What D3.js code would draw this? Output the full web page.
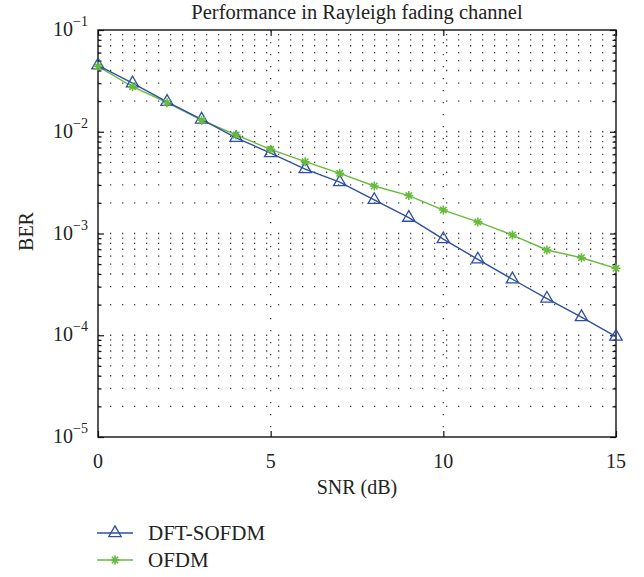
<!DOCTYPE html>
<html>
<head>
<meta charset="utf-8">
<script src="https://cdn.jsdelivr.net/npm/d3@7"></script>
<style>
  body { margin: 0; background: #fff; }
</style>
</head>
<body>
<svg id="chart" width="644" height="577" font-family="'Liberation Serif', 'DejaVu Serif', serif"></svg>
<script>
// data
const snr = [0, 1, 2, 3, 4, 5, 6, 7, 8, 9, 10, 11, 12, 13, 14, 15]
const berDft = [0.0450, 0.0300, 0.0197, 0.0132, 0.0087, 0.00618, 0.0043, 0.0032, 0.00214,
                0.00143, 0.00088, 0.000557, 0.000355, 0.000229, 0.000151, 0.0000969]
const berOfdm = [0.0440, 0.0277, 0.0193, 0.0130, 0.0093, 0.00671, 0.00508, 0.0039, 0.00293,
                 0.00236, 0.00170, 0.00130, 0.000966, 0.000689, 0.000578, 0.000455]
const xTicks = [0, 5, 10, 15]
const yExp = [-1, -2, -3, -4, -5]
const seriesNames = ["DFT-SOFDM", "OFDM"]

const blue = "#2f4fa2", green = "#66bb3c"
const serif = "Liberation Serif"

var margin = ({top: 30, right: 28, bottom: 140, left: 98})
var svg = d3.select("#chart")
var width = 644 - margin.left - margin.right
var height = 577 - margin.top - margin.bottom

var x = d3.scaleLinear().domain([0, 15]).range([0, width])
var y = d3.scaleLog().domain([1e-5, 1e-1]).range([height, 0])

var g = svg.append("g").attr("transform", `translate(${margin.left},${margin.top})`)

// minor log ticks
var minors = []
for (let e = -5; e < -1; e++) {
  for (let k = 2; k <= 9; k++) minors.push(k * Math.pow(10, e))
}
var majors = yExp.map(e => Math.pow(10, e))

// dotted grid
var grid = g.append("g").attr("stroke", "#444").attr("stroke-width", 1.3)
  .attr("stroke-dasharray", "1.3,10.7")
grid.selectAll(".hg").data(minors.concat(majors.slice(1, 4))).enter().append("line")
  .attr("x1", 0).attr("x2", width)
  .attr("y1", d => y(d)).attr("y2", d => y(d))
grid.selectAll(".vg").data([5, 10]).enter().append("line")
  .attr("x1", d => x(d)).attr("x2", d => x(d))
  .attr("y1", 0).attr("y2", height)

// axes (ticks inside, box on all sides)
function styleAxis(sel) {
  sel.select(".domain").remove()
  sel.selectAll("line").attr("stroke", "#111").attr("stroke-width", 1.2)
}
g.append("g").attr("transform", `translate(0,${height})`)
  .call(d3.axisBottom(x).tickValues(xTicks).tickSize(-6).tickFormat(""))
  .call(styleAxis)
g.append("g")
  .call(d3.axisTop(x).tickValues(xTicks).tickSize(-6).tickFormat(""))
  .call(styleAxis)
g.append("g")
  .call(d3.axisLeft(y).tickValues(majors).tickSize(-6).tickFormat(""))
  .call(styleAxis)
g.append("g")
  .call(d3.axisLeft(y).tickValues(minors).tickSize(-3.5).tickFormat(""))
  .call(styleAxis)
g.append("g").attr("transform", `translate(${width},0)`)
  .call(d3.axisRight(y).tickValues(majors).tickSize(-6).tickFormat(""))
  .call(styleAxis)
g.append("g").attr("transform", `translate(${width},0)`)
  .call(d3.axisRight(y).tickValues(minors).tickSize(-3.5).tickFormat(""))
  .call(styleAxis)

g.append("rect").attr("width", width).attr("height", height)
  .attr("fill", "none").attr("stroke", "#111").attr("stroke-width", 1.4)

// tick labels
g.selectAll(".xl").data(xTicks).enter().append("text")
  .attr("x", d => x(d)).attr("y", height + 31)
  .attr("text-anchor", "middle").attr("font-size", 20)
  .attr("font-family", serif).attr("fill", "#222")
  .text(d => d)

var yl = g.selectAll(".yl").data(yExp).enter().append("text")
  .attr("x", -10).attr("y", d => y(Math.pow(10, d)) + 6)
  .attr("text-anchor", "end").attr("font-size", 20)
  .attr("font-family", serif).attr("fill", "#222")
yl.append("tspan").text("10")
yl.append("tspan").attr("dy", -10).attr("font-size", 14).text(d => "\u2212" + Math.abs(d))

// titles
function label(t, size) {
  return svg.append("text").attr("text-anchor", "middle").attr("font-size", size)
    .attr("font-family", serif).attr("fill", "#222").text(t)
}
label("Performance in Rayleigh fading channel", 20.5)
  .attr("x", margin.left + width / 2).attr("y", 19)
label("SNR (dB)", 20)
  .attr("x", margin.left + width / 2).attr("y", margin.top + height + 57)
label("BER", 20)
  .attr("transform", `translate(33,${margin.top + height / 2 - 2}) rotate(-90)`)

// series
var line = d3.line().x((d, i) => x(snr[i])).y(d => y(d))
var tri = d3.symbol().type(d3.symbolTriangle).size(66)
var star = "M-4.5,0H4.5M0,-4.5V4.5M-3.2,-3.2L3.2,3.2M-3.2,3.2L3.2,-3.2"

g.append("path").datum(berOfdm).attr("d", line)
  .attr("fill", "none").attr("stroke", green).attr("stroke-width", 1.4)
g.append("path").datum(berDft).attr("d", line)
  .attr("fill", "none").attr("stroke", blue).attr("stroke-width", 1.4)

g.selectAll(".tri").data(berDft).enter().append("path")
  .attr("transform", (d, i) => `translate(${x(snr[i])},${y(d)})`)
  .attr("d", tri).attr("fill", "none").attr("stroke", blue).attr("stroke-width", 1.3)
g.selectAll(".star").data(berOfdm).enter().append("path")
  .attr("transform", (d, i) => `translate(${x(snr[i])},${y(d)})`)
  .attr("d", star).attr("fill", "none").attr("stroke", green).attr("stroke-width", 1.6)

// legend
var leg = svg.append("g").attr("transform", "translate(97,533)")
var legItems = leg.selectAll(".li").data(seriesNames).enter().append("g")
  .attr("transform", (d, i) => `translate(0,${i * 27})`)
legItems.append("line").attr("x1", 0).attr("x2", 36)
  .attr("stroke", (d, i) => i ? green : blue).attr("stroke-width", 1.4)
legItems.append("path").attr("transform", "translate(18,0)")
  .attr("d", (d, i) => i ? star : tri())
  .attr("fill", "none").attr("stroke", (d, i) => i ? green : blue)
  .attr("stroke-width", (d, i) => i ? 1.6 : 1.3)
legItems.append("text").attr("x", 51).attr("y", 7).attr("font-size", 21)
  .attr("font-family", serif).attr("fill", "#222")
  .text(d => d)
</script>
</body>
</html>
